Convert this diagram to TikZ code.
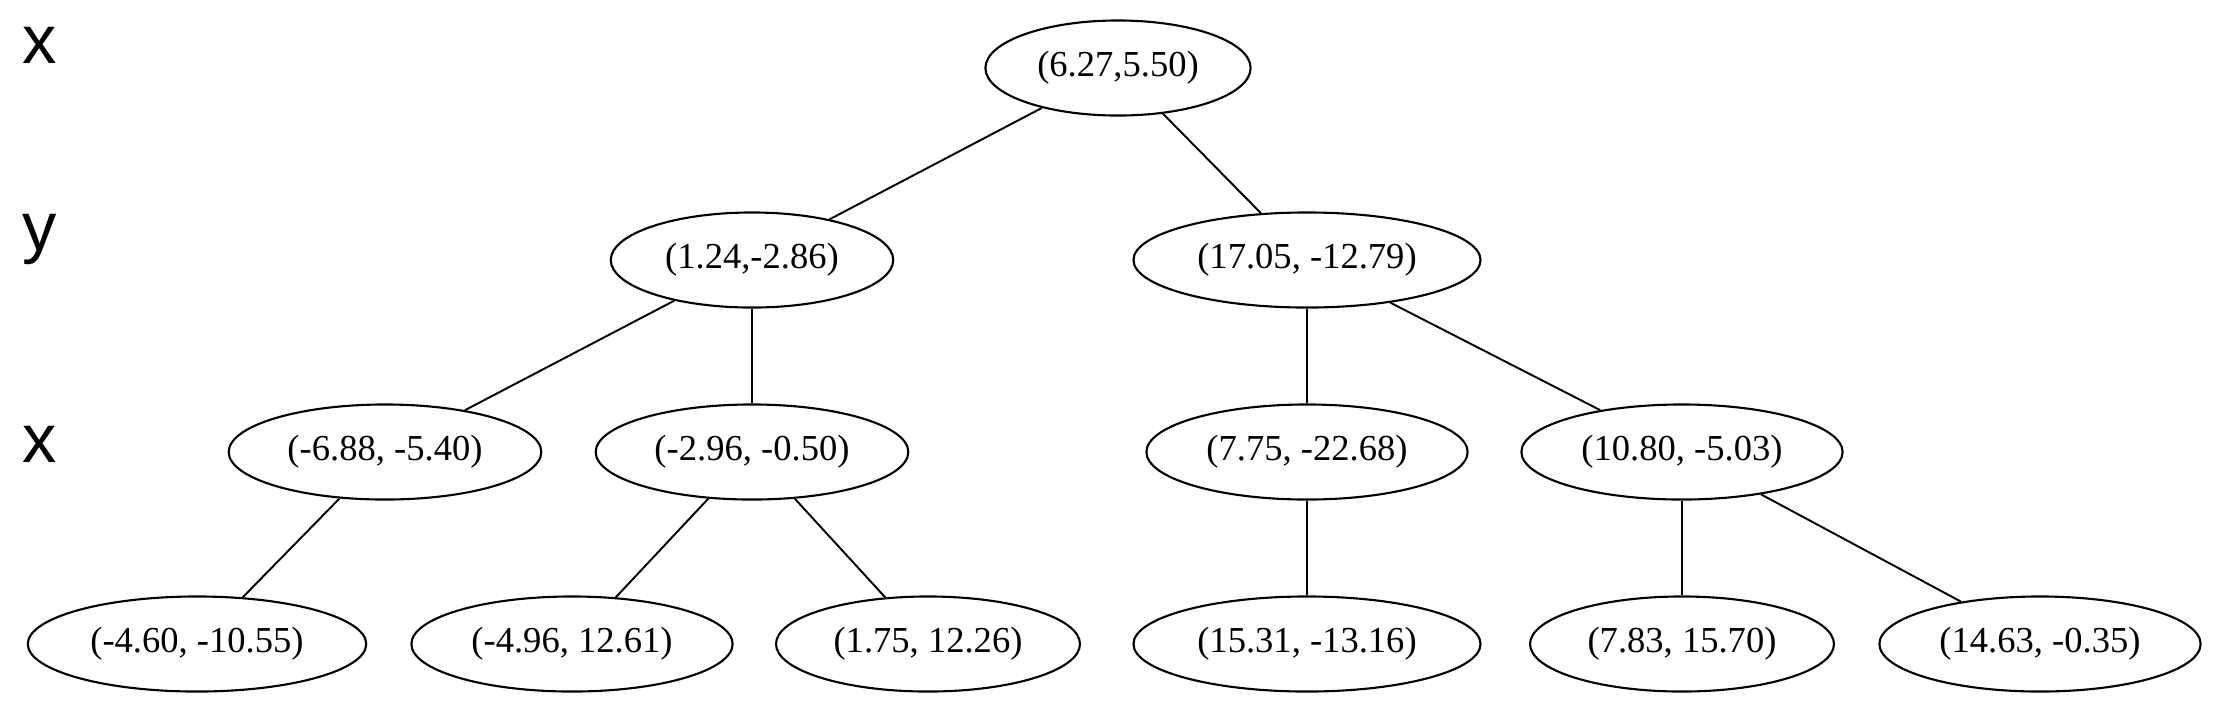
\documentclass[tikz,border=0pt]{standalone}
\usepackage{fontspec}
\setmainfont{Liberation Serif}
\newfontfamily\livfont{Liberation Sans}
\usetikzlibrary{shapes,positioning}

\tikzset{
  nodo/.style={draw, ellipse, line width=0.6pt, minimum height=0.95cm,
    inner xsep=0.13cm, inner ysep=0pt, font=\fontsize{10.4}{12}\selectfont},
  livello/.style={anchor=base west, inner sep=0pt, font=\livfont\fontsize{19.5}{22}\selectfont},
  ramo/.style={line width=0.55pt}
}

\begin{document}
\begin{tikzpicture}[x=0.01cm,y=-0.01cm]

\useasboundingbox (0,0) rectangle (2217,708);

% --- Livelli ---
\node[livello] (lx1) at (22,63) {x};
\node[livello] (ly)  at (22,250) {y};
\node[livello] (lx2) at (22,462) {x};

% --- Nodi ---
\node[nodo] (r)  at (1118,68) {(6.27,5.50)};

\node[nodo] (a)  at (752,260)  {(1.24,-2.86)};
\node[nodo] (b)  at (1307,260) {(17.05, -12.79)};

\node[nodo] (aa) at (385,452)  {(-6.88, -5.40)};
\node[nodo] (ab) at (752,452)  {(-2.96, -0.50)};
\node[nodo] (ba) at (1307,452) {(7.75, -22.68)};
\node[nodo] (bb) at (1682,452) {(10.80, -5.03)};

\node[nodo] (aaa) at (197,644)  {(-4.60, -10.55)};
\node[nodo] (aba) at (572,644)  {(-4.96, 12.61)};
\node[nodo] (abb) at (928,644)  {(1.75, 12.26)};
\node[nodo] (baa) at (1307,644) {(15.31, -13.16)};
\node[nodo] (bba) at (1682,644) {(7.83, 15.70)};
\node[nodo] (bbb) at (2040,644) {(14.63, -0.35)};

% --- Rami ---
\draw[ramo] (r) -- (a);
\draw[ramo] (r) -- (b);
\draw[ramo] (a) -- (aa);
\draw[ramo] (a) -- (ab);
\draw[ramo] (b) -- (ba);
\draw[ramo] (b) -- (bb);
\draw[ramo] (aa) -- (aaa);
\draw[ramo] (ab) -- (aba);
\draw[ramo] (ab) -- (abb);
\draw[ramo] (ba) -- (baa);
\draw[ramo] (bb) -- (bba);
\draw[ramo] (bb) -- (bbb);

\end{tikzpicture}
\end{document}
